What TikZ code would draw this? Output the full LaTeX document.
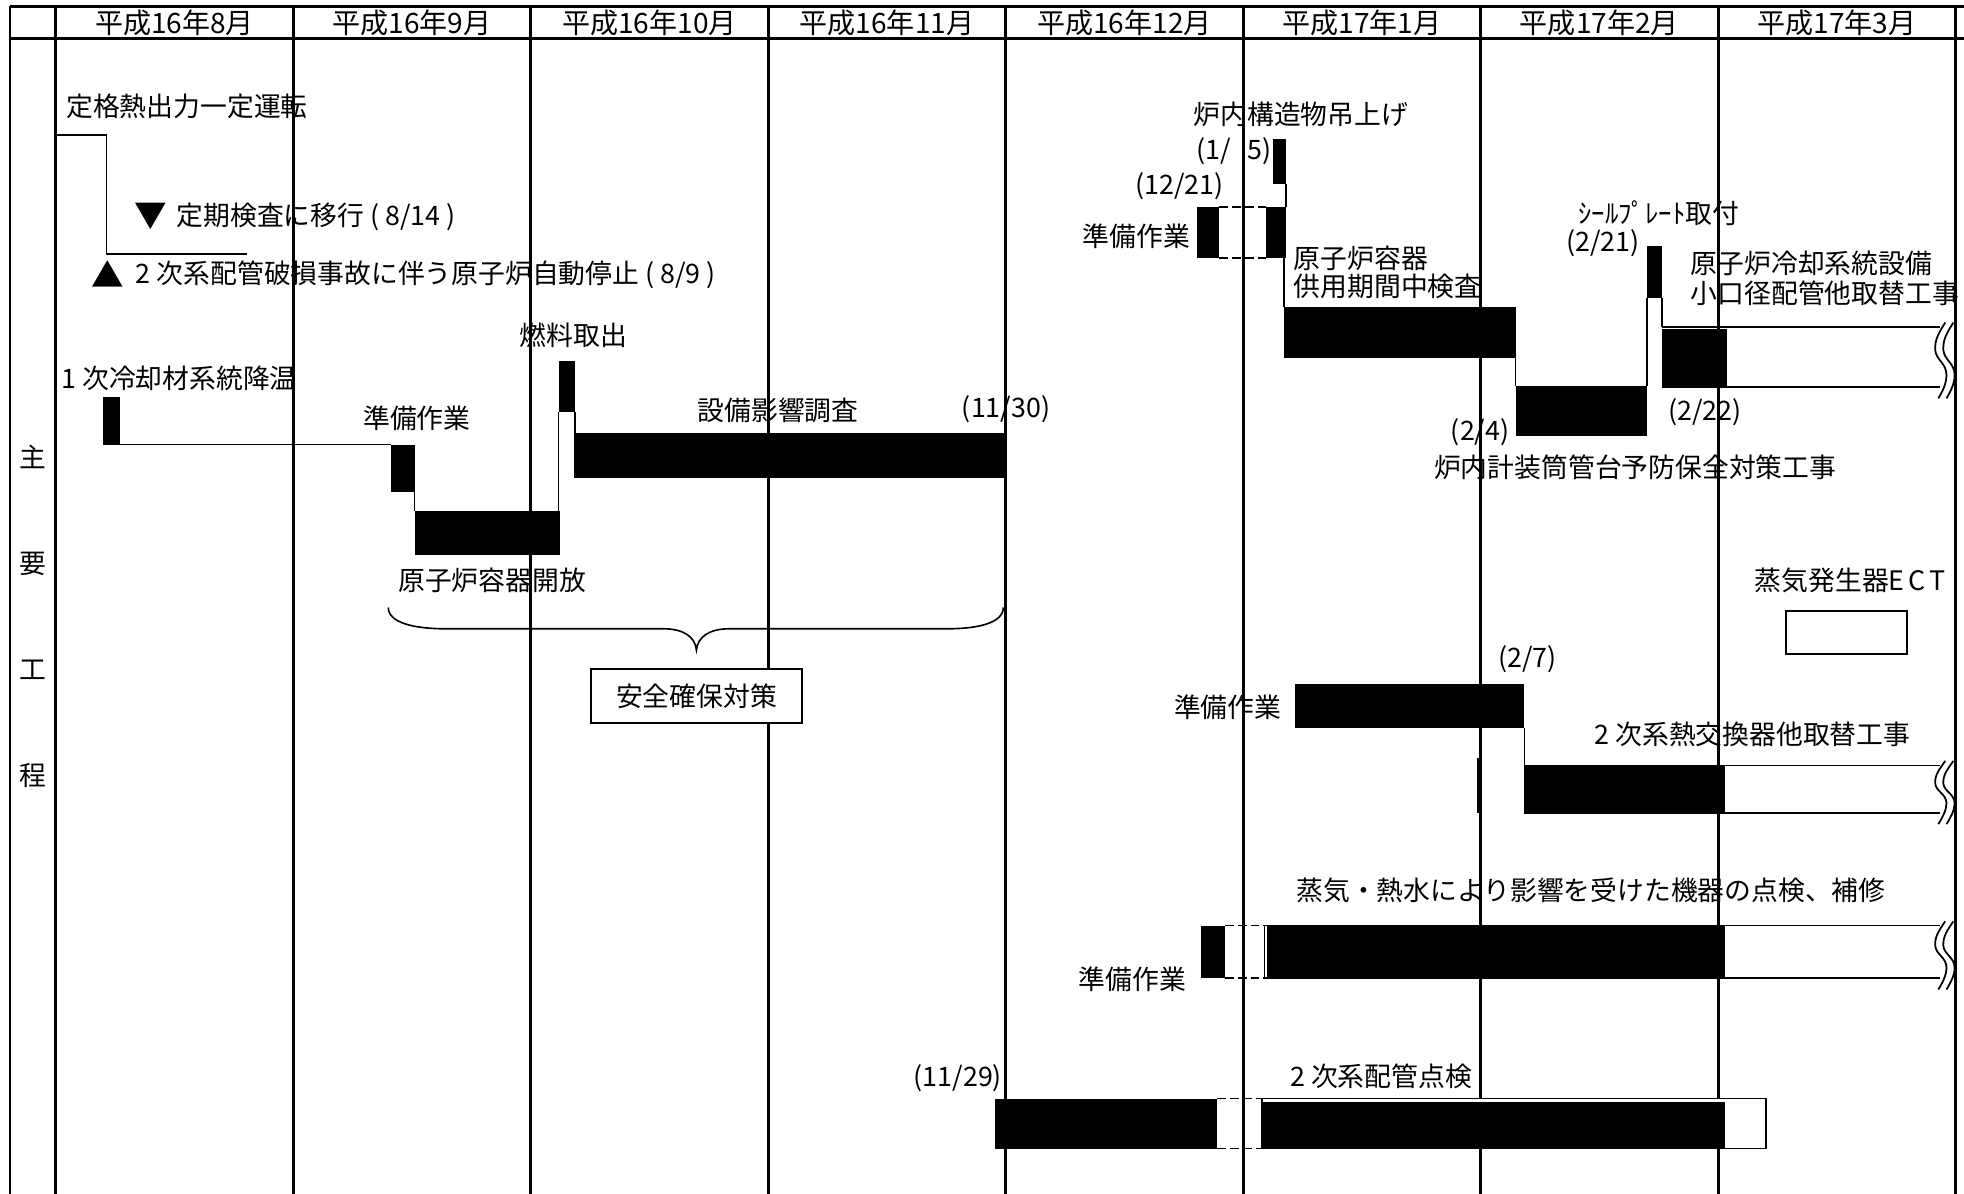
\documentclass[tikz,border=0pt]{standalone}
\usepackage{fontspec}
\setmainfont{Noto Sans CJK JP}
\usetikzlibrary{fit}
\newcommand\wavebrk[3]{%
  \draw[wavy] ({#1+3.5},{#2-3.5}) .. controls ({#1-1},{#2+0.08*(#3-#2)}) and ({#1-5},{#2+0.2*(#3-#2)}) .. ({#1-4.5},{#2+0.38*(#3-#2)}) .. controls ({#1-4},{#2+0.55*(#3-#2)}) and ({#1+4.5},{#2+0.6*(#3-#2)}) .. ({#1+4.5},{#2+0.8*(#3-#2)}) .. controls ({#1+4.5},{#2+0.95*(#3-#2)}) and ({#1+1},{#3+4}) .. ({#1-2},{#3+9});}
\begin{document}
\begin{tikzpicture}[x=0.5pt,y=-0.5pt,
  every node/.style={inner sep=0pt,outer sep=0pt,font=\fontsize{10.7pt}{12pt}\selectfont},
  hdr/.style={font=\fontsize{11.2pt}{12pt}\selectfont},
  gridline/.style={line width=1.15pt},
  thinline/.style={line width=0.65pt},
  gapline/.style={line width=0.65pt,dash pattern=on 3.5pt off 1.6pt},
  wavy/.style={line width=0.7pt},
  blk/.style={fill=black,draw=none,inner sep=0pt,outer sep=0pt},
  framebox/.style={draw=black,line width=0.8pt,inner sep=0pt,outer sep=0pt,fill=white},
  outl/.style={draw=black,line width=0.65pt,inner sep=0pt,outer sep=0pt,fill=white},
  tri/.style={font=\fontsize{13pt}{14pt}\selectfont}
]
\useasboundingbox (0,0) rectangle (1568,953);

% ---------------- grid ----------------
\draw[gridline] (8,5) -- (1568,5);
\draw[gridline] (8,31) -- (1568,31);
\draw[gridline] (8,5) -- (8,953);
\draw[gridline] (44.5,5) -- (44.5,953);
\foreach \k in {1,...,8}{\draw[gridline] ({44.5+189.6*\k},5) -- ({44.5+189.6*\k},953);}
\draw[gridline] (1180.5,605) -- (1180.5,649);

\foreach \lab [count=\i] in {平成16年8月,平成16年9月,平成16年10月,平成16年11月,平成16年12月,平成17年1月,平成17年2月,平成17年3月}{
  \node[hdr] (h\i) at ({44.5+189.6*(\i-0.5)},18.5) {\lab};}

\node (v1) at (26.5,365) {主};
\node (v2) at (26.5,450) {要};
\node (v3) at (26.5,535) {工};
\node (v4) at (26.5,619) {程};

% ---------------- left group ----------------
\node[anchor=west] (t-teikaku) at (53,85) {定格熱出力一定運転};
\coordinate (run-a) at (44.5,108);
\coordinate (run-b) at (197,203);
\draw[thinline] (run-a) -- (85,108) -- (85,203) -- (run-b);
\node[tri] (m-down) at (120.5,173) {▼};
\node[anchor=west] (t-teiki) at (141,173) {定期検査に移行 ( 8/14 )};
\node[tri] (m-up) at (86,219) {▲};
\node[anchor=west] (t-jiko) at (108.5,219) {2 次系配管破損事故に伴う原子炉自動停止 ( 8/9 )};

\node[anchor=west] (t-koon) at (49,302) {1 次冷却材系統降温};
\node[anchor=west] (t-jb1) at (290,334) {準備作業};
\node[anchor=west] (t-nenryo) at (415,268) {燃料取出};
\node[anchor=west] (t-eikyo) at (557,328) {設備影響調査};
\node[anchor=west] (t-1130) at (768,327) {(11/30)};
\node[anchor=west] (t-kaiho) at (318,463) {原子炉容器開放};

\node[blk, fit={(82,317) (96,355)}] (b-koon) {};
\node[blk, fit={(312,355) (331,393)}] (b-jb1) {};
\node[blk, fit={(331,408) (447,443)}] (b-kaiho) {};
\node[blk, fit={(446,288) (459,329)}] (b-nenryo) {};
\node[blk, fit={(458,346) (803,382)}] (b-eikyo) {};
\draw[thinline] (b-koon.south east) -- (b-jb1.north west);
\draw[thinline] (b-jb1.south east) -- (b-kaiho.north west);
\draw[thinline] (b-nenryo.south west) -- (b-nenryo.south west |- b-kaiho.north);
\draw[thinline] (b-nenryo.south east) -- (b-nenryo.south east |- b-eikyo.north);

\draw[thinline] (310,485) .. controls (310,497) and (330,502) .. (356,502) -- (530,502) .. controls (545,502) and (555,508) .. (556,519) .. controls (557,508) and (567,502) .. (582,502) -- (756,502) .. controls (782,502) and (801,497) .. (801,485);
\node[framebox, fit={(471.5,534) (640.5,577)}] (anzen-box) {};
\node (t-anzen) at (anzen-box.center) {安全確保対策};

% ---------------- right group ----------------
\node[anchor=west] (t-tsuri) at (953,91) {炉内構造物吊上げ};
\node[anchor=east] (t-0105) at (1015,121) {(1/\hspace{0.6em}5)};
\node[anchor=east] (t-1221) at (977,149) {(12/21)};
\node[anchor=east] (t-jb2) at (950,189) {準備作業};
\node[anchor=west] (t-isi1) at (1033,206) {原子炉容器};
\node[anchor=west] (t-isi2) at (1033,229) {供用期間中検査};
\node[anchor=west] (t-seal) at (1260,170) {ｼｰﾙﾌﾟﾚｰﾄ取付};
\node[anchor=east] (t-0221) at (1309,194) {(2/21)};
\node[anchor=west] (t-kok1) at (1350,210) {原子炉冷却系統設備};
\node[anchor=west] (t-kok2) at (1350,234) {小口径配管他取替工事};
\node[anchor=east] (t-0204) at (1205,345) {(2/4)};
\node[anchor=west] (t-0222) at (1332,329) {(2/22)};
\node[anchor=west] (t-ronai) at (1145,373) {炉内計装筒管台予防保全対策工事};

\node[blk, fit={(1016.5,111) (1026.5,147)}] (b-tsuri) {};
\node[blk, fit={(956,165.5) (973.5,206)}] (b-jb2) {};
\node[blk, fit={(1011,165.5) (1026.5,206)}] (b-jb2b) {};
\node[blk, fit={(1025,245) (1210,286)}] (b-isi) {};
\node[blk, fit={(1210,308) (1315,348)}] (b-ronai) {};
\node[blk, fit={(1315,196) (1327,238)}] (b-seal) {};
\coordinate (kok-top) at (1549,261);
\coordinate (kok-bot) at (1549,309);
\draw[thinline] (1327,261) -- (kok-top);
\draw[thinline] (1327,309) -- (kok-bot);
\node[blk, fit={(1327,263) (1379,309)}] (b-koukei) {};
\draw[thinline] (b-tsuri.south east) -- (b-jb2b.north east);
\draw[gapline] (b-jb2.north east) -- (b-jb2b.north west);
\draw[gapline] (b-jb2.south east) -- (b-jb2b.south west);
\draw[thinline] (b-isi.north west) -- (b-isi.north west |- b-jb2b.south);
\draw[thinline] (b-isi.south east) -- (b-ronai.north west);
\draw[thinline] (b-ronai.north east) -- (b-seal.south west);
\draw[thinline] (b-seal.south east) -- (b-seal.south east |- kok-top);
\wavebrk{1549.5}{261}{309}
\wavebrk{1556}{261}{309}

% ECT
\node[anchor=west] (t-ect) at (1401,463) {蒸気発生器E\hspace{0.14em}C\hspace{0.14em}T};
\node[framebox, fit={(1425.5,488) (1522.5,522.5)}] (ect-box) {};

% 2次系熱交換器
\node[anchor=west] (t-0207) at (1196,526) {(2/7)};
\node[anchor=east] (t-jb3) at (1023,565) {準備作業};
\node[anchor=west] (t-nekko) at (1273,586) {2 次系熱交換器他取替工事};
\node[blk, fit={(1034,546) (1217,581)}] (b-jb3) {};
\coordinate (nek-top) at (1549,611);
\coordinate (nek-bot) at (1549,649);
\draw[thinline] (1217,611) -- (nek-top);
\draw[thinline] (1217,649) -- (nek-bot);
\node[blk, fit={(1217,611) (1377.5,649)}] (b-nekko) {};
\draw[thinline] (b-jb3.south east) -- (b-nekko.north west);
\wavebrk{1549.5}{611}{649}
\wavebrk{1556}{611}{649}

% 蒸気・熱水
\node[anchor=west] (t-tenken) at (1035,711) {蒸気・熱水により影響を受けた機器の点検、補修};
\node[anchor=east] (t-jb4) at (947,782) {準備作業};
\coordinate (ten-top) at (1549,739);
\coordinate (ten-bot) at (1549,781);
\draw[thinline] (1009.5,739) -- (ten-top);
\draw[thinline] (1009.5,781) -- (ten-bot);
\draw[thinline] (1009.5,739) -- (1009.5,781);
\node[blk, fit={(958.5,739) (978,781)}] (b-jb4) {};
\node[blk, fit={(1011.5,739) (1377,781)}] (b-tenken) {};
\draw[gapline] (b-jb4.north east) -- (1009.5,739);
\draw[gapline] (b-jb4.south east) -- (1009.5,781);
\wavebrk{1549.5}{739}{781}
\wavebrk{1556}{739}{781}

% 2次系配管点検
\node[anchor=east] (t-1129) at (800,861) {(11/29)};
\node[anchor=west] (t-haikan) at (1030,859) {2 次系配管点検};
\node[blk, fit={(794,877) (972,917)}] (b-haikan1) {};
\node[outl, fit={(1007.5,877) (1410,917)}] (o-haikan2) {};
\node[blk, fit={(1007.5,880) (1377,917)}] (b-haikan2) {};
\draw[gapline] (b-haikan1.north east) -- (o-haikan2.north west);
\draw[gapline] (b-haikan1.south east) -- (o-haikan2.south west);
\end{tikzpicture}
\end{document}
